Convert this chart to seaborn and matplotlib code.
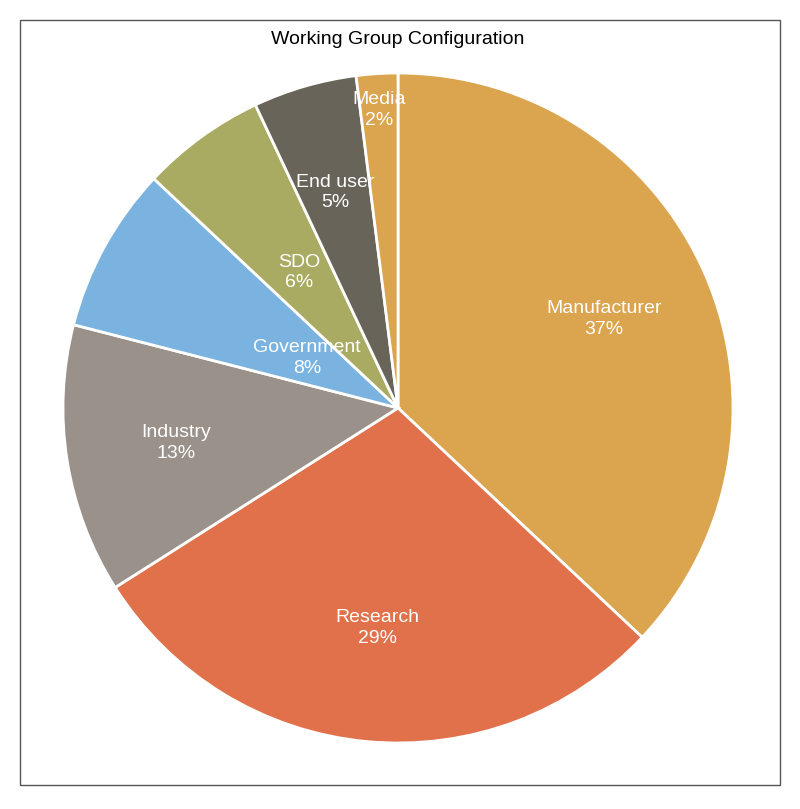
import matplotlib
matplotlib.use("Agg")
import matplotlib.pyplot as plt
import seaborn as sns
import numpy as np
from matplotlib.patches import Rectangle

sns.set_theme(style="white")

categories = ["Manufacturer", "Research", "Industry", "Government", "SDO", "End user", "Media"]
values = [37, 29, 13, 8, 6, 5, 2]
colors = ["#DBA44F", "#E0714B", "#9A918A", "#7BB3E0", "#A9AB63", "#69645A", "#DBA44F"]
label_dist = [0.67, 0.66, 0.67, 0.31, 0.50, 0.67, 0.89]

fig = plt.figure(figsize=(8, 8.09), dpi=100)
fig.patch.set_facecolor("white")
w, h = 670 / 800, 670 / 809
cx, cy = 398 / 800, 1 - 408 / 809
ax = fig.add_axes([cx - w / 2, cy - h / 2, w, h])
wedges, _ = ax.pie(values, colors=colors, startangle=90, counterclock=False,
                   wedgeprops=dict(edgecolor="white", linewidth=2))
ax.set_xlim(-1, 1)
ax.set_ylim(-1, 1)
ax.set_aspect("equal")
ax.axis("off")

total = sum(values)
cum = 0
for cat, v, d in zip(categories, values, label_dist):
    mid = (cum + v / 2) / total
    ang = np.deg2rad(90 - mid * 360)
    ax.text(d * np.cos(ang), d * np.sin(ang), f"{cat}\n{round(v)}%", color="white",
            ha="center", va="center", fontsize=14, linespacing=1.3,
            fontfamily="Liberation Sans")
    cum += v

fig.text(398 / 800, 1 - 40 / 809, "Working Group Configuration", ha="center", va="center",
         fontsize=14, fontfamily="Liberation Sans", color="black")
fig.patches.append(Rectangle((20 / 800, 1 - 785 / 809), 760 / 800, 765 / 809,
                             transform=fig.transFigure, fill=False, edgecolor="#555555",
                             linewidth=1))
fig.savefig("out.png", dpi=100)
